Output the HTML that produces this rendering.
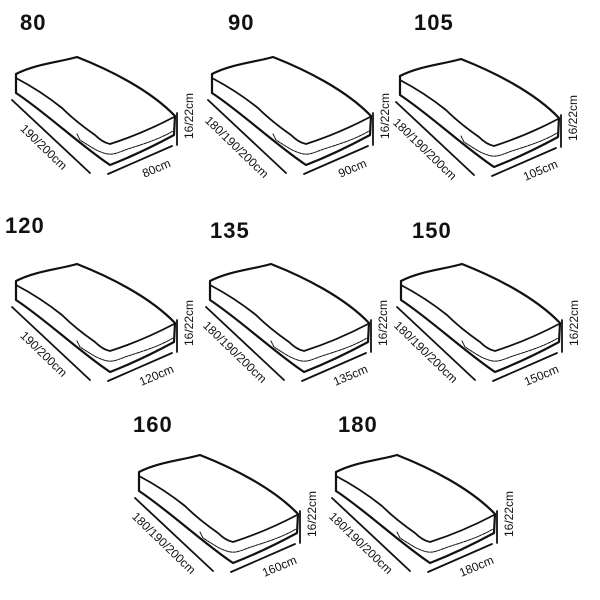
<!DOCTYPE html>
<html><head><style>
html,body{margin:0;padding:0;background:#fff;}
svg{display:block;}
text{font-family:"Liberation Sans",sans-serif;fill:#111;}
.n{font-size:22px;font-weight:bold;letter-spacing:1px;}
.l{font-size:12px;}
</style></head><body>
<svg width="600" height="600" viewBox="0 0 600 600" xmlns="http://www.w3.org/2000/svg">
<defs>
<g id="m" fill="none" stroke="#111" stroke-linecap="round" stroke-linejoin="round">
<path d="M16,74 C35,64 60,62 77,57 C110,70 150,90 175,116 L174,135 C150,148 128,158 110,165 C80,145 45,112 16,93 Z" stroke-width="2.2" fill="#fff"/>
<path d="M16,78 C35,88 52,100 62,108 C72,118 85,128 95,135 C100,140 105,143 110,144 C135,136 155,127 174,117" stroke-width="1.8"/>
<path d="M77,134 L80,140 C88,145 95,150 101,152 C110,156 115,154 125,150 C140,145 158,140 173,131" stroke-width="1" stroke-dasharray="3,1"/>
<line x1="12" y1="100" x2="90" y2="173" stroke-width="1.8"/>
<line x1="108" y1="174" x2="172" y2="146" stroke-width="1.8"/>
<line x1="177" y1="113" x2="177" y2="145" stroke-width="1.8"/>
</g>
</defs>

<text class="n" x="20" y="30">80</text>
<text class="n" x="228" y="30">90</text>
<text class="n" x="414" y="30">105</text>
<text class="n" x="5" y="233">120</text>
<text class="n" x="210" y="238">135</text>
<text class="n" x="412" y="238">150</text>
<text class="n" x="133" y="432">160</text>
<text class="n" x="338" y="432">180</text>

<g transform="translate(0,0)"><use href="#m"/>
<text class="l" text-anchor="middle" transform="translate(41,150) rotate(44)">190/200cm</text>
<text class="l" text-anchor="middle" transform="translate(158,172) rotate(-23)">80cm</text>
<text class="l" text-anchor="middle" transform="translate(193,116) rotate(-90)">16/22cm</text></g>

<g transform="translate(196,0)"><use href="#m"/>
<text class="l" text-anchor="middle" transform="translate(38,150) rotate(44)">180/190/200cm</text>
<text class="l" text-anchor="middle" transform="translate(158,172) rotate(-23)">90cm</text>
<text class="l" text-anchor="middle" transform="translate(193,116) rotate(-90)">16/22cm</text></g>

<g transform="translate(384,2)"><use href="#m"/>
<text class="l" text-anchor="middle" transform="translate(38,150) rotate(44)">180/190/200cm</text>
<text class="l" text-anchor="middle" transform="translate(158,172) rotate(-23)">105cm</text>
<text class="l" text-anchor="middle" transform="translate(193,116) rotate(-90)">16/22cm</text></g>

<g transform="translate(0,207)"><use href="#m"/>
<text class="l" text-anchor="middle" transform="translate(41,150) rotate(44)">190/200cm</text>
<text class="l" text-anchor="middle" transform="translate(158,172) rotate(-23)">120cm</text>
<text class="l" text-anchor="middle" transform="translate(193,116) rotate(-90)">16/22cm</text></g>

<g transform="translate(194,207)"><use href="#m"/>
<text class="l" text-anchor="middle" transform="translate(38,148) rotate(44)">180/190/200cm</text>
<text class="l" text-anchor="middle" transform="translate(158,172) rotate(-23)">135cm</text>
<text class="l" text-anchor="middle" transform="translate(193,116) rotate(-90)">16/22cm</text></g>

<g transform="translate(385,207)"><use href="#m"/>
<text class="l" text-anchor="middle" transform="translate(38,148) rotate(44)">180/190/200cm</text>
<text class="l" text-anchor="middle" transform="translate(158,172) rotate(-23)">150cm</text>
<text class="l" text-anchor="middle" transform="translate(193,116) rotate(-90)">16/22cm</text></g>

<g transform="translate(123,398)"><use href="#m"/>
<text class="l" text-anchor="middle" transform="translate(38,148) rotate(44)">180/190/200cm</text>
<text class="l" text-anchor="middle" transform="translate(158,172) rotate(-23)">160cm</text>
<text class="l" text-anchor="middle" transform="translate(193,116) rotate(-90)">16/22cm</text></g>

<g transform="translate(320,398)"><use href="#m"/>
<text class="l" text-anchor="middle" transform="translate(38,148) rotate(44)">180/190/200cm</text>
<text class="l" text-anchor="middle" transform="translate(158,172) rotate(-23)">180cm</text>
<text class="l" text-anchor="middle" transform="translate(193,116) rotate(-90)">16/22cm</text></g>
</svg>
</body></html>
